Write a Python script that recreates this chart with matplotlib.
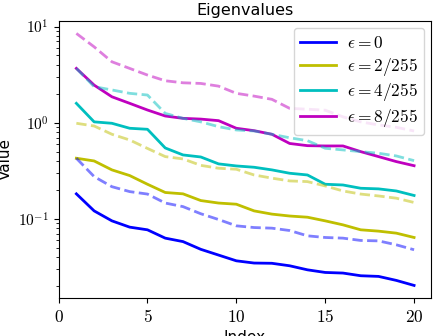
import numpy as np
import matplotlib
matplotlib.use('Agg')
import matplotlib.pyplot as plt
from matplotlib.ticker import FuncFormatter

plt.rcParams['mathtext.fontset'] = 'cm'

# Eigenvalue spectra, solid = one model, dashed = the other
idx = np.arange(1, 21)
eps_labels = [r'$\epsilon = 0$', r'$\epsilon = 2/255$', r'$\epsilon = 4/255$', r'$\epsilon = 8/255$']
colors = ['b', 'y', 'c', 'm']

solid_0 = [0.182, 0.121, 0.0953, 0.082, 0.0769, 0.063, 0.058, 0.0482, 0.042, 0.0366,
           0.0347, 0.0345, 0.0325, 0.0295, 0.0277, 0.0273, 0.0256, 0.0252, 0.0229, 0.0203]
solid_2 = [0.427, 0.40, 0.323, 0.282, 0.229, 0.188, 0.182, 0.155, 0.146, 0.142,
           0.121, 0.112, 0.107, 0.104, 0.0953, 0.0866, 0.0769, 0.0745, 0.071, 0.064]
solid_4 = [1.59, 1.02, 0.986, 0.875, 0.854, 0.546, 0.462, 0.44, 0.373, 0.355,
           0.344, 0.323, 0.298, 0.286, 0.229, 0.225, 0.208, 0.205, 0.195, 0.175]
solid_8 = [3.67, 2.46, 1.86, 1.59, 1.355, 1.174, 1.11, 1.09, 1.05, 0.875,
           0.826, 0.758, 0.608, 0.577, 0.573, 0.573, 0.50, 0.444, 0.394, 0.357]

dashed_0 = [0.427, 0.275, 0.216, 0.192, 0.181, 0.146, 0.134, 0.113, 0.0984, 0.0846,
            0.0812, 0.080, 0.0756, 0.0666, 0.064, 0.063, 0.0596, 0.059, 0.0537, 0.0477]
dashed_2 = [0.986, 0.924, 0.758, 0.661, 0.540, 0.444, 0.42, 0.360, 0.336, 0.328,
            0.286, 0.265, 0.248, 0.244, 0.220, 0.195, 0.181, 0.173, 0.164, 0.148]
dashed_4 = [3.67, 2.37, 2.19, 2.02, 1.94, 1.25, 1.11, 1.02, 0.909, 0.840,
            0.820, 0.758, 0.697, 0.650, 0.542, 0.521, 0.500, 0.481, 0.451, 0.403]
dashed_8 = [8.48, 6.15, 4.30, 3.67, 3.13, 2.73, 2.60, 2.56, 2.40, 2.02,
            1.89, 1.75, 1.41, 1.38, 1.35, 1.15, 1.02, 0.947, 0.896, 0.82]

solids = [solid_0, solid_2, solid_4, solid_8]
dashes = [dashed_0, dashed_2, dashed_4, dashed_8]

fig = plt.figure(figsize=(4.34, 3.36), dpi=100)
ax = fig.add_axes([0.135, 0.113, 0.858, 0.825])

for c, lab, s in zip(colors, eps_labels, solids):
    ax.plot(idx, s, color=c, lw=2, label=lab)
for c, d in zip(colors, dashes):
    ax.plot(idx, d, color=c, lw=2, ls='--', alpha=0.5)

ax.set_yscale('log')
ax.yaxis.set_major_formatter(FuncFormatter(lambda v, p: r'$10^{%d}$' % round(np.log10(v))))
ax.set_xticks([0, 5, 10, 15, 20])
ax.xaxis.set_major_formatter(FuncFormatter(lambda v, p: r'$%d$' % v))
ax.tick_params(axis='x', labelsize=12.5)
ax.tick_params(axis='y', labelsize=11)
ax.set_xlabel('Index', fontsize=11, labelpad=3)
ax.set_ylabel('Value', fontsize=11)
ax.set_title('Eigenvalues', fontsize=11.5, pad=4)
ax.legend(loc='upper right', fontsize=12.5, labelspacing=0.22, handlelength=2.1,
          handletextpad=0.6, borderpad=0.35, borderaxespad=0.4)

plt.savefig('out.png', dpi=100)
